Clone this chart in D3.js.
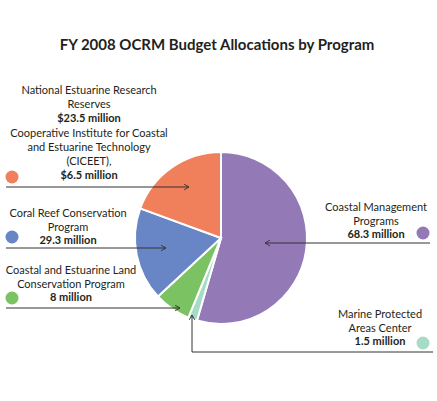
<!DOCTYPE html>
<html><head><meta charset="utf-8">
<script src="https://cdn.jsdelivr.net/npm/d3@7"></script>
<style>body{margin:0;background:#fff}svg{display:block}text{font-family:Lato,"Open Sans",sans-serif;fill:#231f20}</style>
</head><body>
<script>
// Data
const programs = ["Coastal Management Programs","Marine Protected Areas Center","Coastal and Estuarine Land Conservation Program","Coral Reef Conservation Program","National Estuarine Research Reserves + CICEET"];
const amounts = [68.3, 1.5, 8, 29.3, 30.0]; // $ million (labels)
const drawnShares = [54.5, 1.7, 6.9, 17.5, 19.4]; // % of circle as drawn in the reference
const colors = ["#9479b7","#a5dbc7","#7bc263","#6886c5","#f07f5c"];
const labelLines = [
  [["Coastal Management",0],["Programs",0],["68.3 million",1]],
  [["Marine Protected",0],["Areas Center",0],["1.5 million",1]],
  [["Coastal and Estuarine Land",0],["Conservation Program",0],["8 million",1]],
  [["Coral Reef Conservation",0],["Program",0],["29.3 million",1]],
  [["National Estuarine Research",0],["Reserves",0],["$23.5 million",1],["Cooperative Institute for Coastal",0],["and Estuarine Technology",0],["(CICEET),",0],["$6.5 million",1]]
];
const title = "FY 2008 OCRM Budget Allocations by Program";

const W=437,H=401;
const svg=d3.select("body").append("svg").attr("width",W).attr("height",H);
svg.append("defs").append("marker").attr("id","arr").attr("viewBox","0 0 10 10")
  .attr("refX",9).attr("refY",5).attr("markerWidth",7).attr("markerHeight",7).attr("orient","auto")
  .attr("markerUnits","userSpaceOnUse")
  .append("path").attr("d","M2,1 L9,5 L2,9").attr("fill","none").attr("stroke","#333").attr("stroke-width",1.3);

svg.append("text").attr("x",217).attr("y",50).attr("text-anchor","middle")
  .style("font-weight","bold").style("font-size","15px").text(title);

const cx=221, cy=238, r=86;
const pie=d3.pie().sort(null).value((d,i)=>drawnShares[i]);
const arc=d3.arc().innerRadius(0).outerRadius(r);
svg.append("g").attr("transform",`translate(${cx},${cy})`)
  .selectAll("path").data(pie(programs)).join("path")
  .attr("d",arc).attr("fill",(d,i)=>colors[i]).attr("stroke","#fff").attr("stroke-width",2);

// annotation layout
const layout=[
  {x:376, y:211, dot:[423,233], path:[[430,243],[265,243]]},
  {x:380, y:318, dot:[423,343], path:[[433,352],[192,352],[192,315]]},
  {x:71, y:274, dot:[12,298], path:[[6,308],[180,308]]},
  {x:68, y:217, dot:[12,237], path:[[6,248],[166,248]]},
  {x:89, y:94, dot:[12,177], path:[[6,187],[189,187]]}
];
const lh=[13.5,13.5,13.5,13.5,14.2];
layout.forEach((L,i)=>{
  const t=svg.append("text").attr("text-anchor","middle").style("font-size","11px");
  labelLines[i].forEach((ln,j)=>{
    t.append("tspan").attr("x",L.x).attr("y",L.y+j*lh[i]).style("font-weight",ln[1]?"bold":"normal").text(ln[0]);
  });
  svg.append("circle").attr("cx",L.dot[0]).attr("cy",L.dot[1]).attr("r",6.5).attr("fill",colors[i]);
  svg.append("path").attr("d",d3.line()(L.path)).attr("fill","none").attr("stroke","#333").attr("stroke-width",1).attr("marker-end","url(#arr)");
});
</script>
</body></html>
